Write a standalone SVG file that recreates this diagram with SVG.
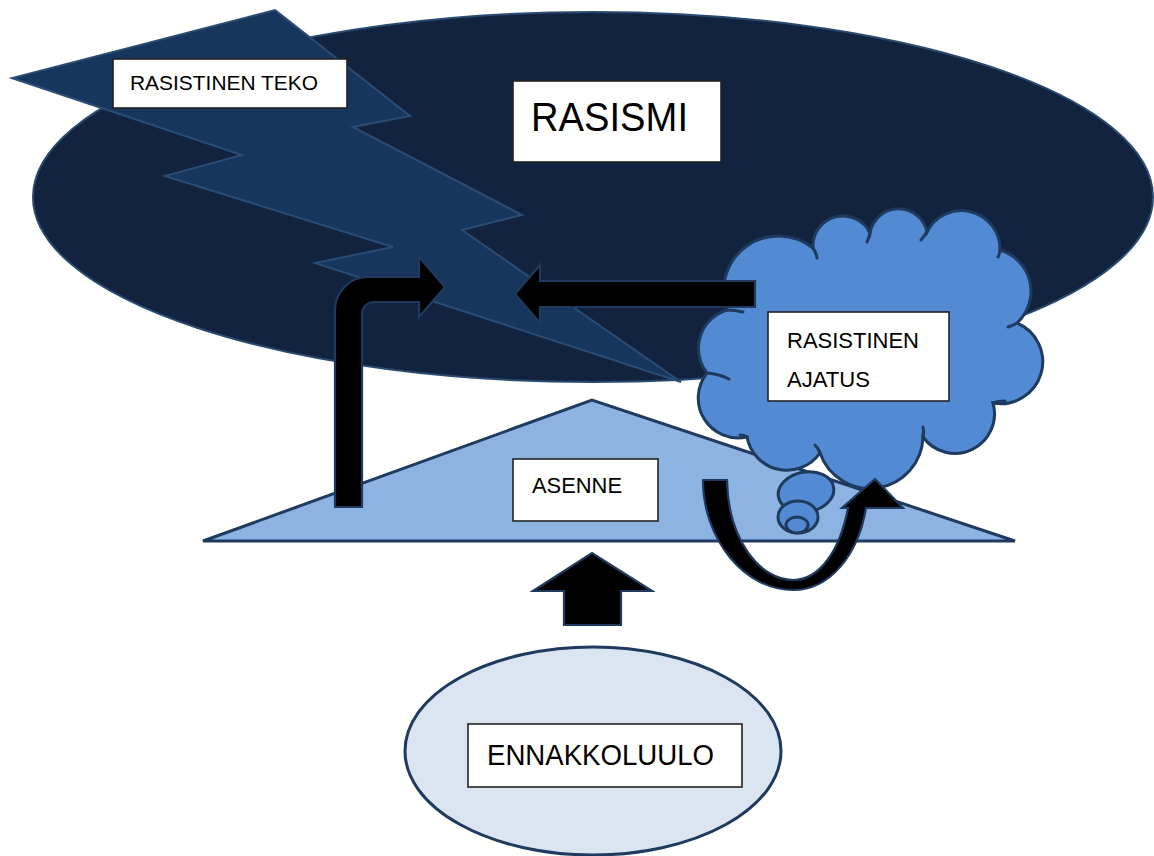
<svg xmlns="http://www.w3.org/2000/svg" width="1154" height="856" viewBox="0 0 1154 856">
<style>
.lbl{font-family:"Liberation Sans",Arial,sans-serif;fill:#000}
.box{fill:#fff;stroke:#222;stroke-width:1.6}
.blue{fill:#528bd3;stroke:#1f3a5f;stroke-width:3}
.arrow{fill:#000;stroke:#1f3a5f;stroke-width:2.2;stroke-linejoin:miter}
.tick{fill:none;stroke:#1f3a5f;stroke-width:3;stroke-linecap:round}
</style>
<rect width="1154" height="856" fill="#fff"/>
<g id="rasismi">
  <ellipse cx="593" cy="197" rx="560" ry="185" fill="#11233e" stroke="#2a4a70" stroke-width="2"/>
</g>
<g id="rasistinen-teko">
  <polygon points="275,10 410,116 353,127 522,215 462,230 681,382 315,263 393,247 165,176 242,155 12,78" fill="#17365d" stroke="#2b4c74" stroke-width="2" stroke-linejoin="miter"/>
  <rect class="box" x="113" y="59" width="234" height="49"/>
  <text class="lbl" x="130" y="90" font-size="21" textLength="188" lengthAdjust="spacingAndGlyphs">RASISTINEN TEKO</text>
</g>
<g id="rasismi-label">
  <rect class="box" x="513" y="81" width="208" height="81"/>
  <text class="lbl" x="531" y="131" font-size="40" textLength="157" lengthAdjust="spacingAndGlyphs">RASISMI</text>
</g>
<g id="asenne">
  <polygon points="203,541 592,400 1015,541" fill="#8db3e2" stroke="#1f3a5f" stroke-width="3" stroke-linejoin="miter"/>
  <rect class="box" x="513" y="459" width="145" height="62"/>
  <text class="lbl" x="532" y="493" font-size="22" textLength="90" lengthAdjust="spacingAndGlyphs">ASENNE</text>
</g>
<g id="rasistinen-ajatus">
  <ellipse class="blue" cx="806" cy="492" rx="28" ry="20" transform="rotate(-10 806 492)"/>
  <ellipse class="blue" cx="798" cy="517" rx="20" ry="16"/>
  <ellipse class="blue" cx="797" cy="525" rx="11" ry="8"/>
  <path class="blue" d="M 727,310 A 55 55 0 0 1 813,248 A 30 30 0 0 1 870,233 A 29 29 0 0 1 927,232 A 38.5 38.5 0 0 1 1000,250 A 43 43 0 0 1 1017,323 A 42 42 0 0 1 993,403 A 39.5 39.5 0 0 1 923,437 A 53 53 0 0 1 820,453 A 40.5 40.5 0 0 1 747,437 A 40 40 0 0 1 707,373 A 40 40 0 0 1 727,310 Z"/>
  <path class="tick" d="M 727,310 q 8,0 16,2 M 813,248 q 3,4 4,10 M 870,233 q -1,5 -3,9 M 927,232 q -3,4 -6,8 M 1000,250 q 0,3 -2,7 M 1017,323 q -5,3 -9,4 M 993,403 q 5,-2 12,-2 M 923,437 q 1,-5 0,-10 M 820,453 q -2,-5 -5,-8 M 747,437 q -3,-2 -7,-2 M 707,373 q 12,1 22,6"/>
  <rect class="box" x="768" y="312" width="181" height="89"/>
  <text class="lbl" x="787" y="348" font-size="22" textLength="132" lengthAdjust="spacingAndGlyphs">RASISTINEN</text>
  <text class="lbl" x="787" y="387" font-size="22" textLength="83" lengthAdjust="spacingAndGlyphs">AJATUS</text>
</g>
<g id="ennakkoluulo">
  <ellipse cx="593" cy="751" rx="188" ry="104" fill="#dbe5f1" stroke="#1f3a5f" stroke-width="3"/>
  <rect class="box" x="468" y="724" width="274" height="63"/>
  <text class="lbl" x="487" y="765" font-size="29" textLength="227" lengthAdjust="spacingAndGlyphs">ENNAKKOLUULO</text>
</g>
<g id="connectors">
  <path class="arrow" d="M 335,507 L 335,310 A 33 33 0 0 1 368,277 L 419,277 L 419,257 L 445,287 L 419,317 L 419,302 L 374,302 A 12 12 0 0 0 362,314 L 362,507 Z"/>
  <path class="arrow" d="M 755,281 L 540,281 L 540,265 L 515,294 L 540,323 L 540,307 L 755,307 Z"/>
  <path class="arrow" d="M 703,480 C 703,540 745,590 793,590 C 830,590 858,555 866,508 L 903,508 L 875,479 L 842,508 L 848,508 C 840,550 820,580 793,580 C 760,580 728,540 727,480 Z"/>
  <path class="arrow" d="M 564,625 L 564,591 L 533,591 L 592,553 L 652,591 L 621,591 L 621,625 Z"/>
</g>
</svg>
